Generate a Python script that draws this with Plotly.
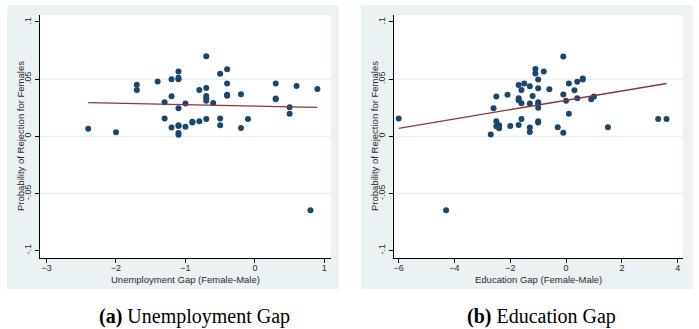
import plotly.graph_objects as go

# ---------------- data ----------------
unemp_gap = [-2.4, -2.0, -1.7, -1.7, -1.4, -1.3, -1.3, -1.2, -1.2, -1.2,
             -1.1, -1.1, -1.1, -1.1, -1.1, -1.1, -1.1, -1.1, -1.0, -1.0,
             -0.9, -0.9, -0.8, -0.8, -0.7, -0.7, -0.7, -0.7, -0.7, -0.7,
             -0.6, -0.5, -0.5, -0.5, -0.4, -0.4, -0.4, -0.4, -0.2, -0.2,
             -0.1, 0.3, 0.3, 0.3, 0.5, 0.5, 0.6, 0.8, 0.9]
unemp_prob = [0.0067, 0.0035, 0.0450, 0.0405, 0.0480, 0.0297, 0.0157, 0.0499, 0.0350, 0.0078,
              0.0566, 0.0512, 0.0499, 0.0245, 0.0097, 0.0090, 0.0030, 0.0013, 0.0287, 0.0083,
              0.0128, 0.0121, 0.0405, 0.0131, 0.0700, 0.0422, 0.0353, 0.0332, 0.0311, 0.0151,
              0.0291, 0.0548, 0.0156, 0.0097, 0.0586, 0.0462, 0.0363, 0.0354, 0.0367, 0.0073,
              0.0152, 0.0461, 0.0331, 0.0324, 0.0254, 0.0198, 0.0440, -0.0647, 0.0414]
unemp_fit_x = [-2.4, 0.9]
unemp_fit_y = [0.0295, 0.0253]

educ_gap = [-6.0, -4.3, -2.7, -2.6, -2.5, -2.5, -2.5, -2.4, -2.4, -2.1,
            -2.0, -1.7, -1.7, -1.7, -1.7, -1.6, -1.6, -1.6, -1.5, -1.3,
            -1.3, -1.3, -1.3, -1.2, -1.1, -1.1, -1.0, -1.0, -1.0, -1.0,
            -1.0, -1.0, -1.0, -0.8, -0.6, -0.3, -0.1, -0.1, -0.1, 0.0,
            0.1, 0.1, 0.3, 0.4, 0.4, 0.6, 0.6, 0.9, 1.0, 1.5, 3.3, 3.6]
educ_prob = [0.0157, -0.0647, 0.0015, 0.0245, 0.0349, 0.0131, 0.0088, 0.0097, 0.0070, 0.0364,
             0.0090, 0.0449, 0.0332, 0.0316, 0.0098, 0.0405, 0.0289, 0.0152, 0.0461, 0.0439,
             0.0286, 0.0077, 0.0038, 0.0353, 0.0588, 0.0550, 0.0498, 0.0420, 0.0298, 0.0283,
             0.0251, 0.0131, 0.0122, 0.0566, 0.0411, 0.0079, 0.0698, 0.0366, 0.0031, 0.0312,
             0.0461, 0.0197, 0.0402, 0.0477, 0.0332, 0.0506, 0.0498, 0.0324, 0.0348, 0.0079,
             0.0152, 0.0152]
educ_fit_x = [-6.0, 3.6]
educ_fit_y = [0.0070, 0.0462]

y_tickvals = [-0.1, -0.05, 0, 0.05, 0.1]
y_ticktext = ["-.1", "-.05", "0", ".05", ".1"]
grid_vals = [-0.05, 0, 0.05]
unemp_ticks = [-3, -2, -1, 0, 1]
educ_ticks = [-6, -4, -2, 0, 2, 4]

y_title = "Probability of Rejection for Females"
unemp_title = "Unemployment Gap (Female-Male)"
educ_title = "Education Gap (Female-Male)"
caption_a = "<b>(a)</b> Unemployment Gap"
caption_b = "<b>(b)</b> Education Gap"

# ---------------- layout geometry ----------------
W, H = 699, 329
def px(x):
    return x / W
def py(y):
    return (H - y) / H

NAVY = "#1a476f"
MAROON = "#90353b"
BG = "#eaf2f3"
GRID = "#e3ecef"
TXT = "#2a2a2a"
SANS = "Liberation Sans, Arial, sans-serif"
SERIF = "Liberation Serif, Times New Roman, serif"

fig = go.Figure()

fig.add_trace(go.Scatter(x=unemp_gap, y=unemp_prob, mode="markers",
                         marker=dict(color=NAVY, size=6, line=dict(width=0)),
                         xaxis="x", yaxis="y", showlegend=False))
fig.add_trace(go.Scatter(x=unemp_fit_x, y=unemp_fit_y, mode="lines",
                         line=dict(color=MAROON, width=1.3),
                         xaxis="x", yaxis="y", showlegend=False))
fig.add_trace(go.Scatter(x=educ_gap, y=educ_prob, mode="markers",
                         marker=dict(color=NAVY, size=6, line=dict(width=0)),
                         xaxis="x2", yaxis="y2", showlegend=False))
fig.add_trace(go.Scatter(x=educ_fit_x, y=educ_fit_y, mode="lines",
                         line=dict(color=MAROON, width=1.3),
                         xaxis="x2", yaxis="y2", showlegend=False))

yrange = [-0.1064, 0.1061]
ydom = [py(258), py(15)]

common_x = dict(showline=True, linecolor="black", linewidth=1, ticks="outside",
                ticklen=4, tickcolor="black", tickwidth=1, showgrid=False,
                zeroline=False, ticklabelstandoff=-3,
                tickfont=dict(family=SANS, size=9, color=TXT))
common_y = dict(showline=True, linecolor="black", linewidth=1, ticks="outside",
                ticklen=4, tickcolor="black", tickwidth=1, showgrid=False,
                zeroline=False, range=yrange, tickvals=y_tickvals, ticktext=y_ticktext,
                tickangle=-90, tickfont=dict(family=SANS, size=9, color=TXT))

fig.update_layout(
    width=W, height=H,
    margin=dict(l=0, r=0, t=0, b=0),
    paper_bgcolor="white",
    plot_bgcolor="rgba(0,0,0,0)",
    xaxis=dict(domain=[px(40), px(331)], range=[-3.094, 1.096], tickvals=unemp_ticks,
               anchor="y", **common_x),
    yaxis=dict(domain=ydom, anchor="x", **common_y),
    xaxis2=dict(domain=[px(394), px(683)], range=[-6.168, 4.19], tickvals=educ_ticks,
                anchor="y2", **common_x),
    yaxis2=dict(domain=ydom, anchor="x2", **common_y),
)

shapes = []
# panel backgrounds
for x0, x1 in [(7, 339), (361, 693)]:
    shapes.append(dict(type="rect", xref="paper", yref="paper", x0=px(x0), x1=px(x1),
                       y0=py(289), y1=py(5), fillcolor=BG, line=dict(width=0), layer="below"))
# white plot regions
for x0, x1 in [(40, 331), (394, 683)]:
    shapes.append(dict(type="rect", xref="paper", yref="paper", x0=px(x0), x1=px(x1),
                       y0=py(258), y1=py(15), fillcolor="white", line=dict(width=0), layer="below"))
# horizontal gridlines
for xr, yr in [("x domain", "y"), ("x2 domain", "y2")]:
    for g in grid_vals:
        shapes.append(dict(type="line", xref=xr, yref=yr, x0=0, x1=1, y0=g, y1=g,
                           line=dict(color=GRID, width=1), layer="below"))
fig.update_layout(shapes=shapes)

ann = []
ann.append(dict(text=y_title, x=px(21), y=py(136), xref="paper", yref="paper",
                textangle=-90, showarrow=False, font=dict(family=SANS, size=9.5, color=TXT),
                xanchor="center", yanchor="middle"))
ann.append(dict(text=y_title, x=px(375), y=py(136), xref="paper", yref="paper",
                textangle=-90, showarrow=False, font=dict(family=SANS, size=9.5, color=TXT),
                xanchor="center", yanchor="middle"))
ann.append(dict(text=unemp_title, x=px(185), y=py(279.5), xref="paper", yref="paper",
                showarrow=False, font=dict(family=SANS, size=9.5, color=TXT),
                xanchor="center", yanchor="middle"))
ann.append(dict(text=educ_title, x=px(538), y=py(279.5), xref="paper", yref="paper",
                showarrow=False, font=dict(family=SANS, size=9.5, color=TXT),
                xanchor="center", yanchor="middle"))
ann.append(dict(text=caption_a, x=px(195), y=py(316), xref="paper", yref="paper",
                showarrow=False, font=dict(family=SERIF, size=20, color="black"),
                xanchor="center", yanchor="middle"))
ann.append(dict(text=caption_b, x=px(541), y=py(316), xref="paper", yref="paper",
                showarrow=False, font=dict(family=SERIF, size=20, color="black"),
                xanchor="center", yanchor="middle"))
fig.update_layout(annotations=ann)

fig.write_html("out.html", config={"displayModeBar": False},
               post_script="document.body.style.margin='0';document.body.style.padding='0';")
